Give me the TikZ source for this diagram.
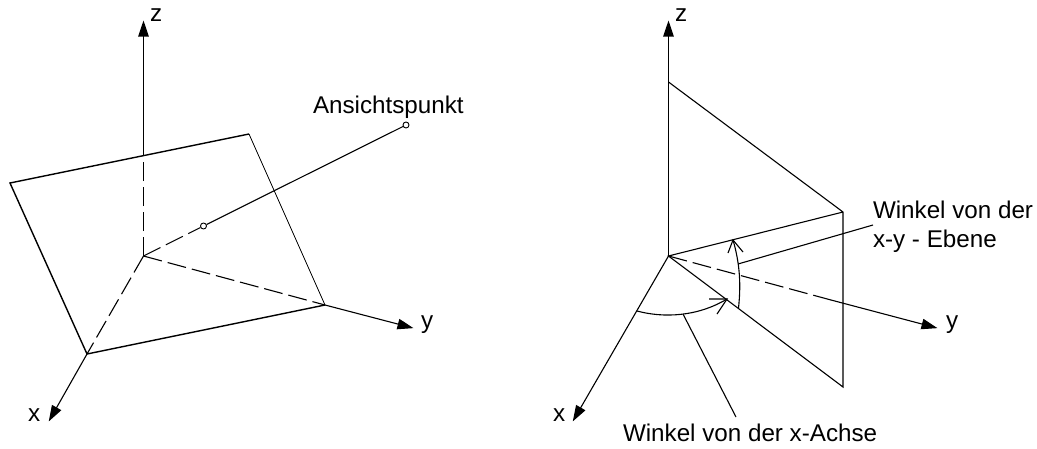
\documentclass[tikz,border=0pt]{standalone}
\usepackage{fontspec}
\setmainfont{Liberation Sans}
\usetikzlibrary{arrows.meta}
\tikzset{
  axis/.style={line width=1.1pt,-{Triangle[length=16pt,width=10.5pt]},shorten >=-0.5pt},
  line/.style={line width=1.1pt},
  heavy/.style={line width=1.4pt},
  thin line/.style={line width=0.8pt},
  hidden/.style={line width=1.1pt,dash pattern=on 19pt off 6pt},
  lab/.style={anchor=base west,inner sep=0pt,outer sep=0pt,font=\fontsize{24.2pt}{28pt}\selectfont},
  dot/.style={circle,draw,fill=white,line width=0.9pt,minimum size=6pt,inner sep=0pt}
}
\begin{document}
\begin{tikzpicture}[x=1pt,y=-1pt]
\useasboundingbox (0,0) rectangle (1037,448);
% left figure
\coordinate (O) at (143.5,256);
\coordinate (Zt) at (143.5,21);
\coordinate (Zm) at (143.5,155);
\coordinate (Xt) at (49,421);
\coordinate (Yt) at (413,328);
\coordinate (A) at (10,183);
\coordinate (B) at (249,134);
\coordinate (C) at (325,305);
\coordinate (D) at (87,354);
\draw[hidden] (O) -- (Zm);
\draw[axis] (Zm) -- (Zt);
\draw[hidden] (O) -- (D);
\draw[axis] (D) -- (Xt);
\draw[hidden] (O) -- (C);
\draw[axis] (C) -- (Yt);
\draw[heavy] (D) -- (A) -- (B);
\draw[thin line] (B) -- (C);
\draw[heavy] (C) -- (D);
\node[dot] (P1) at (203.5,226) {};
\node[dot] (P2) at (406,125) {};
\draw[hidden] (O) -- (P1);
\draw[line] (P1) -- (P2);
\node[lab] (lz1) at (150,21) {z};
\node[lab] (ly1) at (421,328) {y};
\node[lab] (lx1) at (28,421) {x};
\node[lab] (lv) at (313,113) {Ansichtspunkt};
% right figure
\coordinate (Q) at (668.5,256);
\coordinate (Qz) at (668.5,21);
\coordinate (Qx) at (573,421);
\coordinate (Qy) at (937,328);
\coordinate (Qym) at (831,300);
\coordinate (T) at (668.5,82);
\coordinate (R) at (843,212);
\coordinate (S) at (843,387);
\draw[axis] (Q) -- (Qz);
\draw[axis] (Q) -- (Qx);
\draw[hidden] (Q) -- (Qym);
\draw[axis] (Qym) -- (Qy);
\draw[line] (T) -- (R) -- (S) -- (Q) -- (R);
% angle arcs
\coordinate (a1) at (637,311);
\coordinate (a1t) at (727,299);
\coordinate (a1m) at (683,314);
\coordinate (a2) at (738.5,308);
\coordinate (a2t) at (733,240);
\coordinate (a2m) at (738,264);
\draw[line] (a1) .. controls (663,318) and (697,317) .. (a1t);
\draw[line] (709,299) -- (a1t) -- (717,314);
\draw[line] (a2) .. controls (741,285) and (740,264) .. (a2t);
\draw[line] (728,253) -- (a2t) -- (743,252);
% leaders
\coordinate (e1) at (736,417);
\coordinate (e2) at (873,225);
\draw[line] (a1m) -- (e1);
\draw[line] (a2m) -- (e2);
\node[lab] (lz2) at (675,21) {z};
\node[lab] (ly2) at (946,328) {y};
\node[lab] (lx2) at (553,421) {x};
\node[lab] (lw1) at (873,218) {Winkel von der};
\node[lab] (lw2) at (873,247) {x-y - Ebene};
\node[lab] (lw3) at (623,441) {Winkel von der x-Achse};
\end{tikzpicture}
\end{document}
